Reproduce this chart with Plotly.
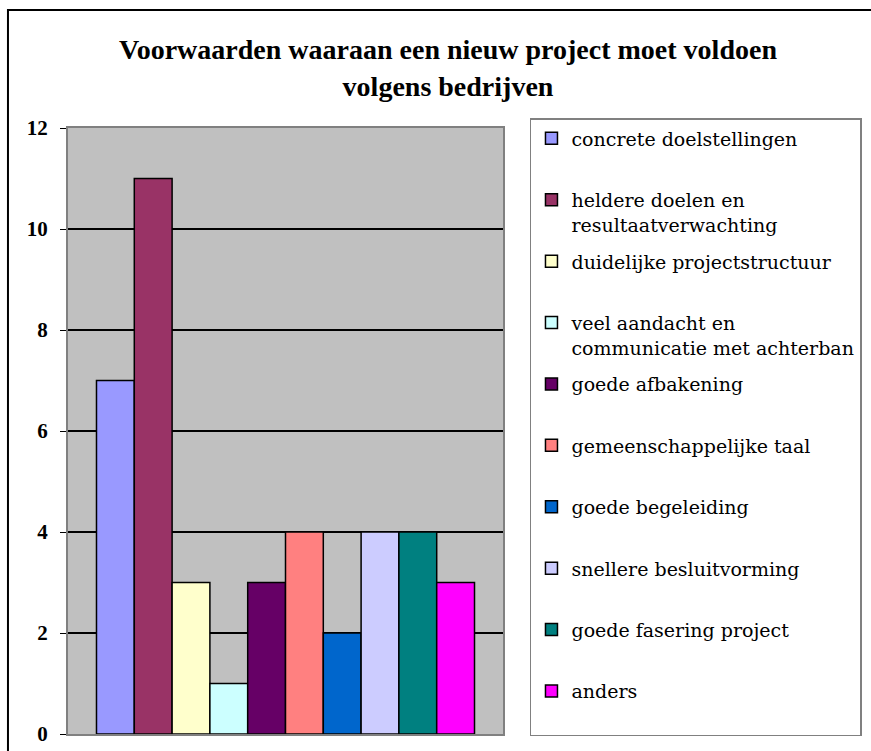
import plotly.graph_objects as go

categories = ["concrete doelstellingen", "heldere doelen en<br>resultaatverwachting",
              "duidelijke projectstructuur", "veel aandacht en<br>communicatie met achterban",
              "goede afbakening", "gemeenschappelijke taal", "goede begeleiding",
              "snellere besluitvorming", "goede fasering project", "anders"]
values = [7, 11, 3, 1, 3, 4, 2, 4, 4, 3]
colors = ["#9999FF", "#993366", "#FFFFCC", "#CCFFFF", "#660066",
          "#FF8080", "#0066CC", "#CCCCFF", "#008080", "#FF00FF"]
y_ticks = [0, 2, 4, 6, 8, 10, 12]

fig = go.Figure()
for i, (name, v, c) in enumerate(zip(categories, values, colors)):
    label = name if "<br>" in name else name + "<br> "
    fig.add_trace(go.Bar(x=[""], y=[v], name=label, marker_color=c,
                         marker_line_color="black", marker_line_width=1.5,
                         legendgroup=str(i), hoverinfo="skip"))

fig.update_layout(
    width=871, height=751,
    margin=dict(l=68, r=368, t=128, b=17, autoexpand=False),
    paper_bgcolor="white", plot_bgcolor="#C0C0C0",
    barmode="group", bargap=0.131, bargroupgap=0,
    title=dict(text="<b>Voorwaarden waaraan een nieuw project moet voldoen<br>volgens bedrijven</b>",
               x=448 / 871, xanchor="center", y=0.921, yanchor="top",
               font=dict(family="Liberation Serif", size=28, color="black")),
    legend=dict(x=1.062, xanchor="left", y=1.0165, yanchor="top",
                bordercolor="#808080", borderwidth=1.5, bgcolor="white",
                font=dict(family="DejaVu Serif", size=19, color="black"),
                tracegroupgap=9, valign="top", traceorder="grouped",
                maxheight=730),
    showlegend=True,
)
fig.update_xaxes(showticklabels=False, showgrid=False, showline=True, mirror=True,
                 linecolor="#808080", linewidth=2, zeroline=False, fixedrange=True)
fig.update_yaxes(range=[0, 12], tickvals=y_ticks, showgrid=True, gridcolor="black",
                 gridwidth=1.5, showline=True, mirror=True, linecolor="#808080",
                 linewidth=2, ticks="outside", ticklen=6, tickcolor="black",
                 ticklabelstandoff=8, ticklabeloverflow="allow", automargin=False,
                 tickfont=dict(family="Liberation Serif", size=21, color="black", weight="bold"),
                 zeroline=False, fixedrange=True)
fig.add_shape(type="rect", xref="paper", yref="paper",
              x0=-0.138, x1=1.9, y0=-0.1, y1=1.1947,
              line=dict(color="black", width=2), fillcolor="rgba(0,0,0,0)", layer="below")

fig.write_html("out.html", config={"displayModeBar": False},
               post_script="document.body.style.margin='0';document.body.style.overflow='hidden';")
